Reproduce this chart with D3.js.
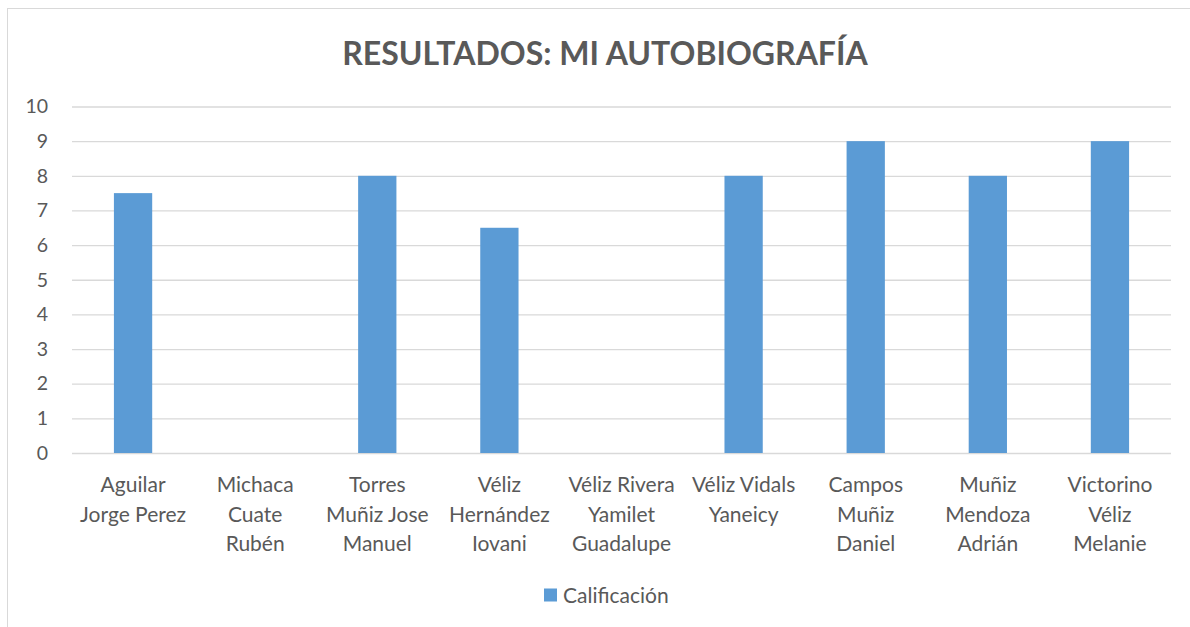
<!DOCTYPE html>
<html>
<head>
<meta charset="utf-8" />
<title>Resultados</title>
<script src="https://cdn.jsdelivr.net/npm/d3@7"></script>
<style>
  body { margin: 0; background: #fff; }
  text { font-family: Lato, "Open Sans", sans-serif; fill: #595959; }
</style>
</head>
<body>
<script>
// datos
var categories = [
  "Aguilar\nJorge Perez",
  "Michaca\nCuate\nRubén",
  "Torres\nMuñiz Jose\nManuel",
  "Véliz\nHernández\nIovani",
  "Véliz Rivera\nYamilet\nGuadalupe",
  "Véliz Vidals\nYaneicy",
  "Campos\nMuñiz\nDaniel",
  "Muñiz\nMendoza\nAdrián",
  "Victorino\nVéliz\nMelanie"
];
var calificacion = [7.5, 0, 8, 6.5, 0, 8, 9, 8, 9];
var yTicks = [0, 1, 2, 3, 4, 5, 6, 7, 8, 9, 10];
var seriesName = "Calificación";
var title = "RESULTADOS: MI AUTOBIOGRAFÍA";

var width = 1190, height = 627;
var plotLeft = 72, plotRight = 1171, plotTop = 106.5, plotBottom = 453;
var barColor = "#5b9bd5";

var svg = d3.select("body").append("svg")
    .attr("width", width)
    .attr("height", height);

// borde del gráfico
svg.append("rect")
    .attr("x", 7.5).attr("y", 8.5)
    .attr("width", 1300).attr("height", 700)
    .attr("fill", "none")
    .attr("stroke", "#d9d9d9");

var x = d3.scaleBand()
    .domain(d3.range(categories.length))
    .range([plotLeft, plotRight])
    .padding(0);

var y = d3.scaleLinear()
    .domain([0, 10])
    .range([plotBottom, plotTop]);

// cuadrícula
var yAxis = d3.axisLeft(y)
    .tickValues(yTicks)
    .tickSize(-(plotRight - plotLeft))
    .tickPadding(24)
    .tickFormat(d3.format("d"));

var gy = svg.append("g")
    .attr("transform", "translate(" + plotLeft + ",0)")
    .call(yAxis);
gy.select(".domain").remove();
gy.selectAll(".tick line").attr("stroke", "#d9d9d9").attr("stroke-width", 1.3);
gy.selectAll(".tick text")
    .attr("font-size", 19.5)
    .attr("font-family", "Lato, 'Open Sans', sans-serif")
    .style("fill", "#595959");

// barras
var barW = x.bandwidth() / 3.19;
svg.selectAll("rect.bar")
    .data(calificacion)
  .enter().append("rect")
    .attr("class", "bar")
    .attr("x", function(d, i) { return x(i) + (x.bandwidth() - barW) / 2; })
    .attr("y", function(d) { return y(d); })
    .attr("width", barW)
    .attr("height", function(d) { return y(0) - y(d); })
    .attr("fill", barColor);

// etiquetas del eje x
var labels = svg.selectAll("text.cat")
    .data(categories)
  .enter().append("text")
    .attr("class", "cat")
    .attr("text-anchor", "middle")
    .attr("font-size", 21)
    .attr("transform", function(d, i) {
      return "translate(" + (x(i) + x.bandwidth() / 2) + ",492)";
    });
labels.selectAll("tspan")
    .data(function(d) { return d.split("\n"); })
  .enter().append("tspan")
    .attr("x", 0)
    .attr("dy", function(d, i) { return i === 0 ? 0 : 29.5; })
    .text(function(d) { return d; });

// título
svg.append("text")
    .attr("x", 605)
    .attr("y", 65)
    .attr("text-anchor", "middle")
    .attr("font-size", 32)
    .attr("font-weight", "bold")
    .text(title);

// leyenda
svg.append("rect")
    .attr("x", 544).attr("y", 588.5)
    .attr("width", 13).attr("height", 13)
    .attr("fill", barColor);
svg.append("text")
    .attr("x", 563)
    .attr("y", 602.5)
    .attr("font-size", 21)
    .text(seriesName);
</script>
</body>
</html>
